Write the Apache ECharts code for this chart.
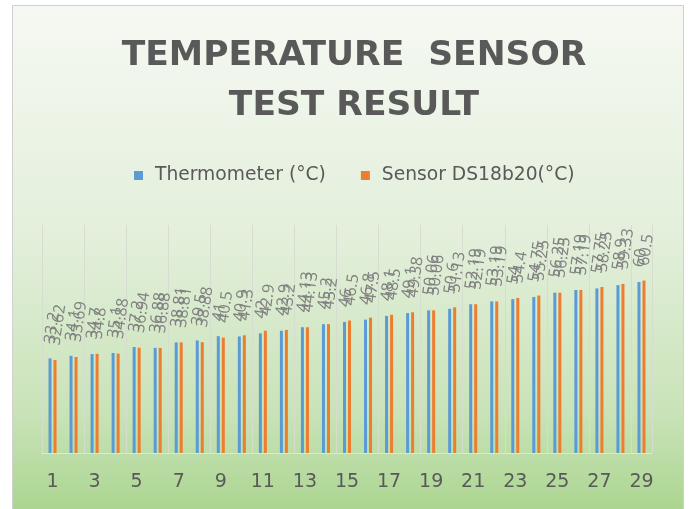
<!DOCTYPE html>
<html>
<head>
<meta charset="utf-8">
<script src="https://cdn.jsdelivr.net/npm/echarts@6/dist/echarts.min.js"></script>
<style>
  html, body { margin: 0; padding: 0; background: #fff; }
  #chart { width: 693px; height: 509px; }
</style>
</head>
<body>
<div id="chart"></div>
<script>
const categories = ["1","2","3","4","5","6","7","8","9","10","11","12","13","14","15",
  "16","17","18","19","20","21","22","23","24","25","26","27","28","29"];
const thermometer = [33.2, 34.1, 34.7, 35.1, 37.2, 36.88, 38.81, 39.5, 41.0, 40.9, 42.0, 42.9, 44.13, 45.2, 46.0,
  46.8, 48.1, 49.1, 50.06, 50.6, 52.19, 53.19, 54.0, 54.75, 56.25, 57.19, 57.75, 58.9, 60];
const sensor = [32.62, 33.69, 34.8, 34.88, 36.94, 36.88, 38.81, 38.88, 40.5, 41.3, 42.9, 43.2, 44.13, 45.2, 46.5,
  47.5, 48.5, 49.38, 50.06, 51.13, 52.19, 53.19, 54.4, 55.25, 56.25, 57.19, 58.25, 59.33, 60.5];

const chart = echarts.init(document.getElementById("chart"));
const font = "DejaVu Sans";
const labelStyle = {
  show: true,
  position: "top",
  distance: 15,
  rotate: 82,
  align: "left",
  verticalAlign: "middle",
  fontFamily: "Open Sans",
  fontSize: 16,
  color: "#808080"
};

chart.setOption({
  animation: false,
  graphic: [{
    type: "rect",
    z: -10,
    silent: true,
    shape: { x: 12.5, y: 5.5, width: 671, height: 510 },
    style: {
      stroke: "#d0d0d0",
      lineWidth: 1,
      fill: new echarts.graphic.LinearGradient(0, 0, 0, 1, [
        { offset: 0, color: "#f6f9f3" },
        { offset: 0.45, color: "#e3efdb" },
        { offset: 0.8, color: "#c9e3b8" },
        { offset: 1, color: "#a9d48e" }
      ])
    }
  }],
  title: {
    text: "TEMPERATURE  SENSOR\nTEST RESULT",
    left: 354,
    top: 31,
    padding: 0,
    textAlign: "center",
    textStyle: {
      fontFamily: font,
      fontWeight: "bold",
      fontSize: 34.5,
      lineHeight: 50,
      color: "#595959"
    }
  },
  legend: {
    top: 161,
    left: 129,
    icon: "rect",
    itemWidth: 9,
    itemHeight: 9,
    itemGap: 35,
    textStyle: { fontFamily: font, fontSize: 18.7, color: "#595959", padding: [0, 0, 0, 7] },
    data: ["Thermometer (°C)", "Sensor DS18b20(°C)"]
  },
  grid: { left: 42, right: 41, top: 225, bottom: 56 },
  xAxis: {
    type: "category",
    data: categories,
    axisTick: { show: false },
    axisLine: { lineStyle: { color: "#dfe8d8" } },
    axisLabel: {
      interval: 1,
      margin: 20,
      fontFamily: font,
      fontSize: 19,
      color: "#595959"
    },
    splitLine: { show: true, lineStyle: { color: "#d6ddd0", width: 1 } }
  },
  yAxis: {
    type: "value",
    min: 0,
    max: 80,
    show: false,
    splitLine: { show: false }
  },
  series: [
    {
      name: "Thermometer (°C)",
      type: "bar",
      data: thermometer,
      barWidth: 3,
      barGap: "67%",
      itemStyle: { color: "#5b9bd5" },
      label: labelStyle
    },
    {
      name: "Sensor DS18b20(°C)",
      type: "bar",
      data: sensor,
      barWidth: 3,
      itemStyle: { color: "#ed7d31" },
      label: labelStyle
    }
  ]
});
</script>
</body>
</html>
